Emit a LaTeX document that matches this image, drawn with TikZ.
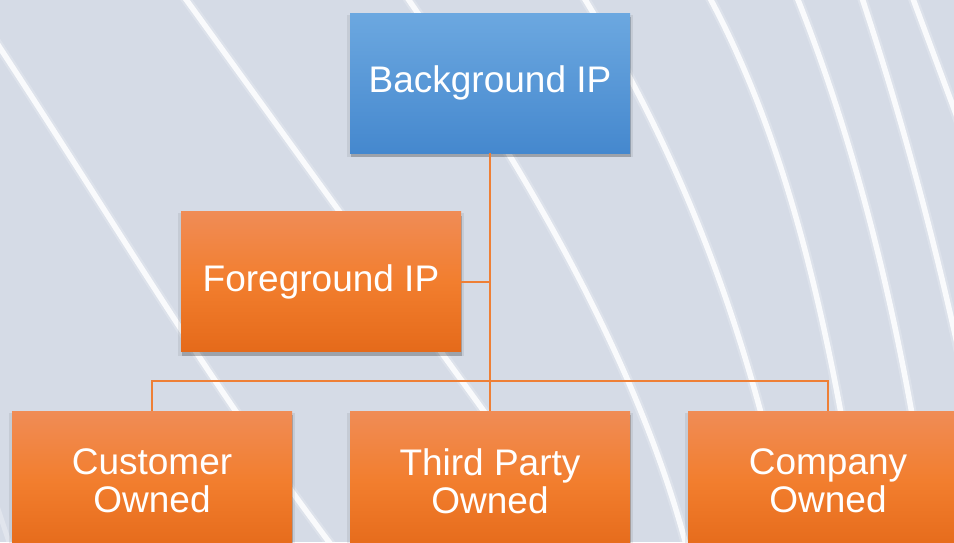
\documentclass[tikz,border=0pt]{standalone}
\usepackage{fontspec}
\setmainfont{Liberation Sans}
\usetikzlibrary{shadows}
\definecolor{bgcol}{HTML}{D5DBE6}
\definecolor{bluetop}{HTML}{6CA8E0}
\definecolor{bluebot}{HTML}{4588CE}
\definecolor{orgtop}{HTML}{F08C56}
\definecolor{orgmid}{HTML}{F27E2E}
\definecolor{orgbot}{HTML}{E56A1A}
\definecolor{conn}{HTML}{EE7F36}
\tikzset{
  boxbase/.style={rectangle, minimum width=280pt, minimum height=140pt, inner sep=0pt,
    text=white, align=center, font=\fontsize{37}{38}\selectfont,
    drop shadow={shadow xshift=0pt, shadow yshift=-3pt, shadow scale=1.02, opacity=0.07, fill=black},
    drop shadow={shadow xshift=1pt, shadow yshift=-4pt, opacity=0.2, fill=black}},
  bluebox/.style={boxbase, top color=bluetop, bottom color=bluebot},
  orangebox/.style={boxbase, top color=orgtop, bottom color=orgbot, middle color=orgmid},
  connector/.style={draw=conn, line width=2pt},
  arcglow/.style={white, opacity=0.2, line width=10pt},
  arcline/.style={white, opacity=0.85, line width=5.5pt},
}
\begin{document}
\begin{tikzpicture}[x=1pt, y=-1pt]
\useasboundingbox (0,0) rectangle (954,542);
\clip (0,0) rectangle (954,542);
\fill[bgcol] (0,0) rectangle (954,542);
% white sweeping arcs
\foreach \s in {arcglow, arcline}{
  \draw[\s] (-15,25) .. controls (120,230) and (200,370) .. (335,550);
  \draw[\s] (172,-20) -- (530,475);
  \draw[\s] (395,-20) .. controls (520,160) and (640,360) .. (690,560);
  \draw[\s] (573,-20) .. controls (680,150) and (750,330) .. (795,560);
  \draw[\s] (700,-20) .. controls (785,130) and (830,320) .. (865,560);
  \draw[\s] (790,-20) .. controls (860,150) and (905,340) .. (935,560);
  \draw[\s] (856,-20) .. controls (900,110) and (935,240) .. (965,380);
  \draw[\s] (906,-20) -- (960,125);
}
\draw[white, opacity=0.3, line width=5pt] (-25,440) -- (15,560);
% nodes
\node[bluebox] (bg) at (490,83) {Background IP};
\node[orangebox] (fg) at (321,281.5) {Foreground IP};
\node[orangebox] (cust) at (152,481) {Customer\\Owned};
\node[orangebox] (third) at (490,481) {Third Party\\Owned};
\node[orangebox] (comp) at (828,481) {Company\\Owned};
% connectors
\coordinate (bus) at (490,381);
\draw[connector] (bg.south) -- (third.north);
\draw[connector] (fg.east) -- (fg.east -| bg.south);
\draw[connector] (cust.north) -- (cust.north |- bus) -- (comp.north |- bus) -- (comp.north);
\end{tikzpicture}
\end{document}
